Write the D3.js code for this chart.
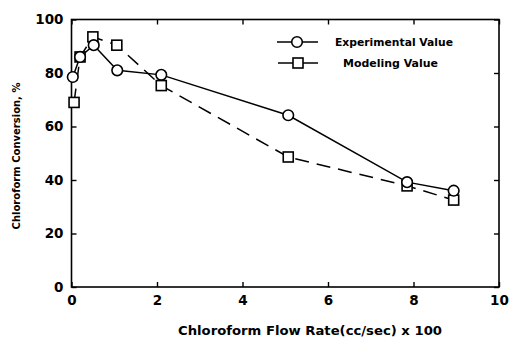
<!DOCTYPE html>
<html><head><meta charset="utf-8">
<script src="https://cdn.jsdelivr.net/npm/d3@7"></script>
<style>body{margin:0;background:#fff}svg{display:block}text{font-family:"DejaVu Sans",sans-serif;font-weight:bold;fill:#000}</style>
</head><body>
<svg id="c" width="510" height="338"></svg>
<script>
const expX = [0.03, 0.2, 0.52, 1.07, 2.1, 5.07, 7.85, 8.94];
const expY = [78.5, 86, 90.4, 81, 79.3, 64.2, 39.2, 36];
const modX = [0.06, 0.2, 0.5, 1.06, 2.1, 5.07, 7.85, 8.94];
const modY = [69, 86, 93.5, 90.4, 75.3, 48.6, 37.8, 32.5];
const xTicks = [0, 2, 4, 6, 8, 10];
const yTicks = [0, 20, 40, 60, 80, 100];
const seriesNames = ["Experimental Value", "Modeling Value"];

const svg = d3.select("#c");
const L = 71.5, R = 499, T = 19.5, B = 287;
const x = d3.scaleLinear().domain([0, 10]).range([L, R]);
const y = d3.scaleLinear().domain([0, 100]).range([B, T]);

svg.append("rect").attr("x", L).attr("y", T).attr("width", R - L).attr("height", B - T)
  .attr("fill", "none").attr("stroke", "#000").attr("stroke-width", 1.6);

const gx = svg.append("g").attr("transform", `translate(0,${B})`)
  .call(d3.axisBottom(x).tickValues(xTicks).tickSize(-5).tickPadding(8).tickFormat(d3.format("d")));
const gxt = svg.append("g").attr("transform", `translate(0,${T})`)
  .call(d3.axisTop(x).tickValues(xTicks).tickSize(-5).tickFormat(""));
const gy = svg.append("g").attr("transform", `translate(${L},0)`)
  .call(d3.axisLeft(y).tickValues(yTicks).tickSize(-5).tickPadding(8).tickFormat(d3.format("d")));
const gyr = svg.append("g").attr("transform", `translate(${R},0)`)
  .call(d3.axisRight(y).tickValues(yTicks).tickSize(-5).tickFormat(""));
[gx, gxt, gy, gyr].forEach(g => {
  g.select(".domain").remove();
  g.selectAll(".tick line").attr("stroke", "#000").attr("stroke-width", 1.4);
  g.selectAll("text").style("font-size", "13.5px").style("font-family", "DejaVu Sans, sans-serif").style("font-weight", "bold").attr("fill", "#000");
});

svg.append("text").attr("x", 310).attr("y", 335).attr("text-anchor", "middle")
  .style("font-size", "12px").attr("textLength", 264).attr("lengthAdjust", "spacingAndGlyphs")
  .text("Chloroform Flow Rate(cc/sec) x 100");
svg.append("text").attr("transform", "translate(20,156) rotate(-90)").attr("text-anchor", "middle")
  .style("font-size", "10px").text("Chloroform Conversion, %");

const expData = expX.map((v, i) => [v, expY[i]]);
const modData = modX.map((v, i) => [v, modY[i]]);
const line = d3.line().x(d => x(d[0])).y(d => y(d[1]));

svg.append("path").datum(modData).attr("d", line).attr("fill", "none")
  .attr("stroke", "#000").attr("stroke-width", 1.5).attr("stroke-dasharray", "14,8");
svg.append("path").datum(expData).attr("d", line).attr("fill", "none")
  .attr("stroke", "#000").attr("stroke-width", 1.5);

const sq = 10;
svg.selectAll(".sq").data(modData).enter().append("rect")
  .attr("x", d => x(d[0]) - sq / 2).attr("y", d => y(d[1]) - sq / 2)
  .attr("width", sq).attr("height", sq).attr("fill", "#fff").attr("stroke", "#000").attr("stroke-width", 1.6);
svg.selectAll(".ci").data(expData).enter().append("circle")
  .attr("cx", d => x(d[0])).attr("cy", d => y(d[1])).attr("r", 5.3)
  .attr("fill", "#fff").attr("stroke", "#000").attr("stroke-width", 1.6);

const lg = svg.append("g");
lg.append("line").attr("x1", 277).attr("x2", 318).attr("y1", 42).attr("y2", 42).attr("stroke", "#000").attr("stroke-width", 1.4);
lg.append("circle").attr("cx", 297).attr("cy", 42).attr("r", 5.3).attr("fill", "#fff").attr("stroke", "#000").attr("stroke-width", 1.6);
lg.append("text").attr("x", 335).attr("y", 46).style("font-size", "11px").attr("textLength", 118).attr("lengthAdjust", "spacingAndGlyphs").text(seriesNames[0]);
lg.append("line").attr("x1", 278).attr("x2", 318).attr("y1", 63).attr("y2", 63).attr("stroke", "#000").attr("stroke-width", 1.4);
lg.append("rect").attr("x", 298 - 5).attr("y", 63 - 5).attr("width", 10).attr("height", 10).attr("fill", "#fff").attr("stroke", "#000").attr("stroke-width", 1.6);
lg.append("text").attr("x", 343).attr("y", 67).style("font-size", "11px").attr("textLength", 95).attr("lengthAdjust", "spacingAndGlyphs").text(seriesNames[1]);
</script>
</body></html>
